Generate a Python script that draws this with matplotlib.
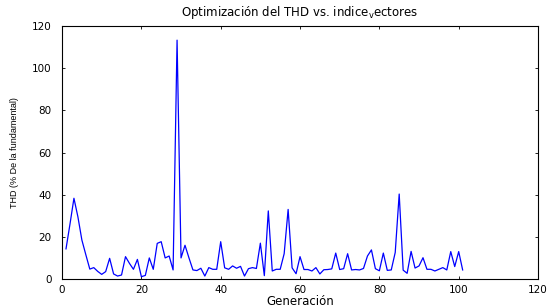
import matplotlib
matplotlib.use("Agg")
import matplotlib.pyplot as plt

generacion = list(range(1, 102))
thd = [14.3, 26.0, 38.3, 29.5, 18.5, 11.5, 4.7, 5.4, 3.6, 2.2,
       3.5, 9.8, 2.4, 1.4, 1.9, 10.6, 7.4, 4.6, 9.3, 1.1,
       1.7, 10.0, 4.6, 16.9, 17.7, 10.0, 10.9, 4.3, 113.3, 10.0,
       16.0, 10.0, 4.3, 4.0, 5.1, 1.4, 5.4, 4.6, 4.6, 17.7,
       5.3, 4.6, 6.2, 5.1, 6.0, 1.4, 4.9, 5.4, 5.0, 17.0,
       1.6, 32.3, 3.8, 4.6, 4.6, 12.0, 33.0, 5.3, 2.5, 10.6,
       4.5, 4.5, 3.8, 5.4, 2.4, 4.4, 4.5, 4.8, 12.3, 4.5,
       4.9, 12.0, 4.3, 4.5, 4.3, 5.0, 10.9, 13.8, 4.9, 3.9,
       12.3, 4.1, 4.3, 12.6, 40.3, 4.2, 2.7, 13.1, 5.2, 6.2,
       10.1, 4.6, 4.6, 3.8, 4.6, 5.4, 4.3, 13.0, 5.9, 13.0,
       4.3]
xticks = [0, 20, 40, 60, 80, 100, 120]
yticks = [0, 20, 40, 60, 80, 100, 120]

plt.rcParams['font.family'] = ['DejaVu Sans']
plt.rcParams['mathtext.default'] = 'regular'

fig = plt.figure(figsize=(5.49, 3.07), dpi=100)
ax = fig.add_axes([0.113, 0.0912, 0.867, 0.824])
ax.plot(generacion, thd, color=(0, 0, 1), lw=0.9)
ax.set_xlim(0, 120)
ax.set_ylim(0, 120)
ax.set_xticks(xticks)
ax.set_yticks(yticks)
ax.tick_params(direction='in', length=2.5, width=0.6, top=True, right=True,
               labelsize=7.5, colors='black')
ax.tick_params(axis='y', pad=7.5)
ax.tick_params(axis='x', pad=4)
for s in ax.spines.values():
    s.set_linewidth(0.8)
    s.set_color('black')
ax.set_title('Optimización del THD vs. indice$_{v}$ectores', fontsize=8.5, pad=7)
ax.set_xlabel('Generación', fontsize=8.5, labelpad=0)
ax.set_ylabel('THD (% De la fundamental)', fontsize=6.5, family=['Liberation Sans'], labelpad=9)

fig.savefig('out.png', dpi=100)
